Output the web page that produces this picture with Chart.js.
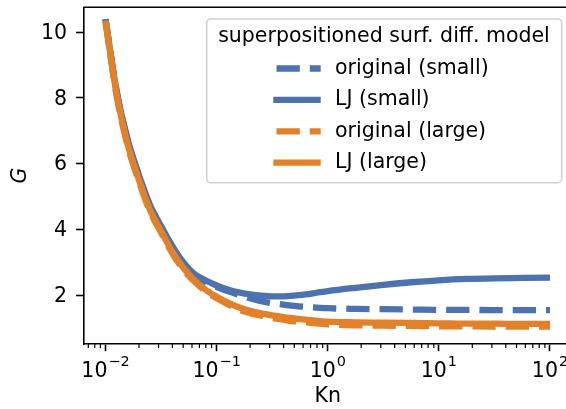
<!DOCTYPE html>
<html>
<head>
<meta charset="utf-8">
<script src="https://cdn.jsdelivr.net/npm/chart.js@4.4.0/dist/chart.umd.min.js"></script>
<style>
  html, body { margin: 0; padding: 0; overflow: hidden; background: #fff; }
  canvas { display: block; }
</style>
</head>
<body>
<canvas id="gChart" width="574" height="409"></canvas>
<script>
// Knudsen numbers (x) shared by all four curves
const knValues = [0.01, 0.0126, 0.0158, 0.02, 0.0251, 0.0316, 0.0398, 0.0501, 0.0631, 0.0794,
  0.1, 0.126, 0.158, 0.2, 0.251, 0.316, 0.398, 0.501, 0.631, 0.794,
  1, 1.78, 3.16, 5.62, 10, 17.8, 31.6, 56.2, 100];

// G values
const originalSmall = [10.4, 8.2, 6.72, 5.62, 4.72, 4.07, 3.47, 2.97, 2.6, 2.4,
  2.24, 2.12, 2.01, 1.9, 1.81, 1.75, 1.71, 1.67, 1.64, 1.62,
  1.60, 1.58, 1.57, 1.56, 1.55, 1.55, 1.54, 1.54, 1.54];
const ljSmall = [10.4, 8.2, 6.75, 5.65, 4.75, 4.1, 3.5, 3.0, 2.64, 2.45,
  2.29, 2.17, 2.08, 2.02, 1.98, 1.96, 1.96, 1.98, 2.02, 2.07,
  2.12, 2.22, 2.31, 2.39, 2.45, 2.49, 2.51, 2.52, 2.53];
const originalLarge = [10.3, 8.05, 6.55, 5.45, 4.55, 3.9, 3.28, 2.78, 2.41, 2.12,
  1.9, 1.72, 1.56, 1.45, 1.37, 1.3, 1.25, 1.2, 1.17, 1.14,
  1.11, 1.08, 1.07, 1.06, 1.05, 1.05, 1.04, 1.04, 1.04];
const ljLarge = [10.35, 8.1, 6.6, 5.5, 4.6, 3.95, 3.33, 2.83, 2.45, 2.16,
  1.95, 1.77, 1.63, 1.52, 1.44, 1.38, 1.33, 1.29, 1.25, 1.22,
  1.19, 1.17, 1.16, 1.15, 1.14, 1.13, 1.13, 1.12, 1.12];

const seriesNames = ['original (small)', 'LJ (small)', 'original (large)', 'LJ (large)'];
const legendTitle = 'superpositioned surf. diff. model';

// tick labels (x labels are 10 raised to these exponents)
const xMajorTicks = [0.01, 0.1, 1, 10, 100];
const xTickBase = '10';
const xTickExponents = ['\u22122', '\u22121', '0', '1', '2'];
const yTicks = [2, 4, 6, 8, 10];

const BLUE = '#4C72B0';
const ORANGE = '#E1822B';
const FONT = 'DejaVu Sans';
const DASH = [23.3, 10];

function toPoints(values) {
  return knValues.map((kn, i) => ({ x: kn, y: values[i] }));
}

const datasets = [
  { label: seriesNames[0], data: toPoints(originalSmall), borderColor: BLUE, borderDash: DASH, order: 4 },
  { label: seriesNames[1], data: toPoints(ljSmall), borderColor: BLUE, borderDash: [], order: 3 },
  { label: seriesNames[2], data: toPoints(originalLarge), borderColor: ORANGE, borderDash: DASH, order: 2 },
  { label: seriesNames[3], data: toPoints(ljLarge), borderColor: ORANGE, borderDash: [], order: 1 }
].map(d => Object.assign(d, {
  borderWidth: 6.3,
  pointRadius: 0,
  fill: false,
  cubicInterpolationMode: 'monotone',
  borderCapStyle: 'butt'
}));

// minor ticks on the log axis, top spine, and 10^n tick labels
const frame = {
  id: 'frame',
  afterDraw(chart) {
    const ctx = chart.ctx;
    const area = chart.chartArea;
    const xs = chart.scales.x;
    ctx.save();
    ctx.strokeStyle = '#000';
    ctx.lineWidth = 1.2;
    xs.ticks.forEach(t => {
      if (t.major) return;
      const px = xs.getPixelForValue(t.value);
      ctx.beginPath();
      ctx.moveTo(px, area.bottom);
      ctx.lineTo(px, area.bottom + 4.1);
      ctx.stroke();
    });
    ctx.lineWidth = 1.6;
    ctx.beginPath();
    ctx.moveTo(area.left, area.top);
    ctx.lineTo(area.right, area.top);
    ctx.lineTo(area.right, area.bottom);
    ctx.stroke();

    // tick labels with a real superscript
    ctx.fillStyle = '#000';
    ctx.textBaseline = 'alphabetic';
    ctx.textAlign = 'left';
    const baseFont = '20.5px "' + FONT + '"';
    const supFont = '14.4px "' + FONT + '"';
    xMajorTicks.forEach((v, i) => {
      const px = xs.getPixelForValue(v);
      ctx.font = baseFont;
      const wb = ctx.measureText(xTickBase).width;
      ctx.font = supFont;
      const we = ctx.measureText(xTickExponents[i]).width;
      const x0 = px - (wb + we + 1) / 2;
      const yb = area.bottom + 32.8;
      ctx.font = baseFont;
      ctx.fillText(xTickBase, x0, yb);
      ctx.font = supFont;
      ctx.fillText(xTickExponents[i], x0 + wb + 1, yb - 11.3);
    });
    ctx.restore();
  }
};

// matplotlib-style legend box with title
const boxLegend = {
  id: 'boxLegend',
  afterDatasetsDraw(chart) {
    const ctx = chart.ctx;
    ctx.save();
    ctx.beginPath();
    ctx.roundRect(206.7, 19, 355, 163.7, 4);
    ctx.fillStyle = 'rgba(255,255,255,0.8)';
    ctx.fill();
    ctx.strokeStyle = '#d2d2d2';
    ctx.lineWidth = 1.6;
    ctx.stroke();

    ctx.fillStyle = '#000';
    ctx.font = '20.5px "' + FONT + '"';
    ctx.textBaseline = 'middle';
    ctx.textAlign = 'center';
    ctx.fillText(legendTitle, 384, 37);

    ctx.textAlign = 'left';
    chart.data.datasets.forEach((ds, i) => {
      const y = 68.5 + i * 31.4;
      ctx.beginPath();
      ctx.setLineDash(ds.borderDash);
      ctx.strokeStyle = ds.borderColor;
      ctx.lineWidth = ds.borderWidth;
      ctx.lineCap = 'butt';
      ctx.moveTo(ds.borderDash.length ? 276.5 : 273.3, y);
      ctx.lineTo(320.7, y);
      ctx.stroke();
      ctx.setLineDash([]);
      ctx.fillText(ds.label, 335, y);
    });
    ctx.restore();
  }
};

new Chart(document.getElementById('gChart'), {
  type: 'line',
  data: { datasets: datasets },
  options: {
    responsive: false,
    devicePixelRatio: 1,
    animation: false,
    layout: { padding: { top: 7.3, right: 1.8, left: 0, bottom: 0 } },
    plugins: { legend: { display: false }, tooltip: { enabled: false } },
    scales: {
      x: {
        type: 'logarithmic',
        min: Math.pow(10, -2.2),
        max: Math.pow(10, 2.2),
        afterBuildTicks: scale => {
          const ticks = [];
          for (let e = -3; e <= 2; e++) {
            for (let k = 1; k <= 9; k++) {
              const v = k * Math.pow(10, e);
              if (v >= scale.min && v <= scale.max) ticks.push({ value: v, major: k === 1 });
            }
          }
          scale.ticks = ticks;
        },
        afterFit: scale => {
          scale.height = 65;
          scale.paddingLeft = 0;
          scale.paddingRight = 0;
        },
        ticks: {
          autoSkip: false,
          maxRotation: 0,
          padding: 6,
          font: { family: FONT, size: 20.5 },
          callback: () => ''
        },
        grid: {
          drawOnChartArea: false,
          tickLength: 7.2,
          tickWidth: 1.6,
          tickColor: c => (c.tick && c.tick.major) ? '#000' : 'rgba(0,0,0,0)'
        },
        border: { display: true, color: '#000', width: 1.6 },
        title: {
          display: true,
          text: 'Kn',
          color: '#000',
          font: { family: FONT, size: 20.5 },
          padding: { top: 0, bottom: 0 }
        }
      },
      y: {
        min: 0.51,
        max: 10.76,
        afterBuildTicks: scale => { scale.ticks = yTicks.map(v => ({ value: v })); },
        afterFit: scale => {
          scale.width = 83.3;
          scale.paddingTop = 0;
          scale.paddingBottom = 0;
        },
        ticks: {
          padding: 9,
          labelOffset: 1.5,
          color: '#000',
          font: { family: FONT, size: 20.5 }
        },
        grid: {
          drawOnChartArea: false,
          tickLength: 7.2,
          tickWidth: 1.6,
          tickColor: '#000'
        },
        border: { display: true, color: '#000', width: 1.6 },
        title: {
          display: true,
          text: 'G',
          color: '#000',
          font: { family: FONT, size: 20.5, style: 'italic' },
          padding: { top: 8.5, bottom: 0 }
        }
      }
    }
  },
  plugins: [boxLegend, frame]
});
</script>
</body>
</html>
